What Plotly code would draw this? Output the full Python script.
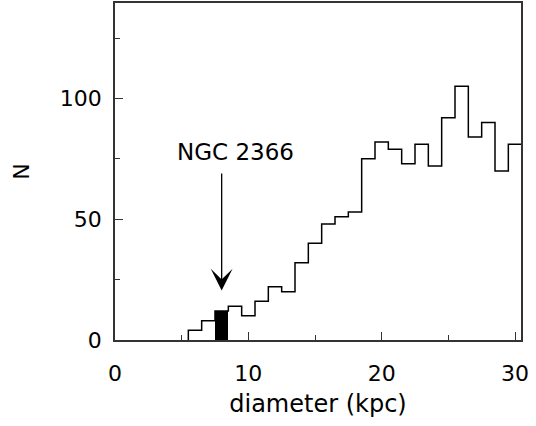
import plotly.graph_objects as go

# Histogram of galaxy diameters (kpc), bin width 1 kpc, edges at x.5
bin_left_edges = [5.5, 6.5, 7.5, 8.5, 9.5, 10.5, 11.5, 12.5, 13.5, 14.5, 15.5, 16.5,
                  17.5, 18.5, 19.5, 20.5, 21.5, 22.5, 23.5, 24.5, 25.5, 26.5, 27.5,
                  28.5, 29.5]
counts = [4, 8, 12, 14, 10, 16, 22, 20, 32, 40, 48, 51,
          53, 75, 82, 79, 73, 81, 72, 92, 105, 84, 90, 70, 81]
bin_width = 1.0

# Highlighted bin containing NGC 2366
ngc_bin_center = 8.0
ngc_count = 12
label_text = "NGC 2366"
arrow_tail_y = 69.5
arrow_tip_y = 20.5

x_ticks = [0, 10, 20, 30]
y_ticks = [0, 50, 100]

# step outline points
xs = [bin_left_edges[0]] + bin_left_edges + [bin_left_edges[-1] + bin_width]
ys = [0] + counts + [counts[-1]]

FONT = "DejaVu Sans"

fig = go.Figure()
fig.add_trace(go.Bar(x=[ngc_bin_center], y=[ngc_count], width=[bin_width],
                     marker=dict(color="black", line=dict(width=0)),
                     showlegend=False, hoverinfo="skip"))
fig.add_trace(go.Scatter(x=xs, y=ys, mode="lines", line=dict(color="black", width=1.5, shape="hv"),
                         showlegend=False, hoverinfo="skip"))

fig.add_annotation(x=ngc_bin_center, y=arrow_tip_y, ax=ngc_bin_center, ay=arrow_tail_y,
                   xref="x", yref="y", axref="x", ayref="y", text="", showarrow=True,
                   arrowhead=3, arrowsize=2.8, arrowwidth=1.3, arrowcolor="black")
fig.add_annotation(x=9.0, y=78, xref="x", yref="y", text=label_text, showarrow=False,
                   font=dict(family=FONT, size=23, color="black"))

axis_common = dict(showline=True, linecolor="#333", linewidth=1.5, mirror=True,
                   ticks="inside", tickcolor="#333", tickwidth=1.2, ticklen=8,
                   showgrid=False, zeroline=False, automargin=False,
                   tickfont=dict(family=FONT, size=22, color="black"))

fig.update_layout(
    width=536, height=426,
    margin=dict(l=115, r=15, t=3, b=86),
    paper_bgcolor="white", plot_bgcolor="white",
    bargap=0,
    xaxis=dict(range=[0, 30.45], tickvals=x_ticks, ticktext=[str(v) for v in x_ticks],
               minor=dict(dtick=5, ticks="inside", ticklen=5, tickcolor="#333", tickwidth=1.2),
               ticklabelstandoff=13,
               title=dict(text="diameter (kpc)", font=dict(family=FONT, size=24, color="black"), standoff=10),
               **axis_common),
    yaxis=dict(range=[0, 139.5], tickvals=y_ticks, ticktext=[str(v) for v in y_ticks],
               minor=dict(dtick=25, ticks="inside", ticklen=5, tickcolor="#333", tickwidth=1.2),
               ticklabelstandoff=7,
               title=dict(text="N", font=dict(family=FONT, size=22, color="black"), standoff=24),
               **axis_common),
)

fig.write_html("out.html", config={"displayModeBar": False},
               post_script="document.body.style.margin='0';document.body.style.overflow='hidden';")
